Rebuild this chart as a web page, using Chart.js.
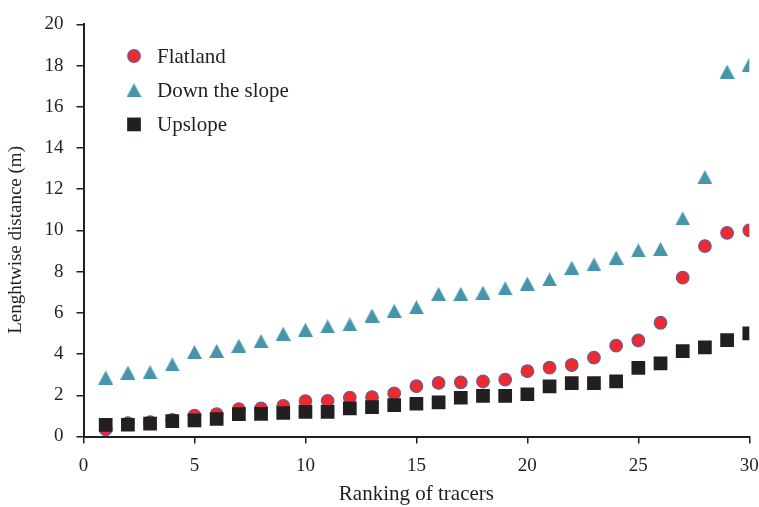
<!DOCTYPE html>
<html>
<head>
<meta charset="utf-8">
<script src="https://cdn.jsdelivr.net/npm/chart.js@4/dist/chart.umd.min.js"></script>
<style>
  html, body { margin: 0; padding: 0; background: #ffffff; }
  #wrap { width: 759px; height: 507px; }
</style>
</head>
<body>
<div id="wrap"><canvas id="c" width="759" height="507"></canvas></div>
<script>
// Tracer ranking (x) and lengthwise travel distance in metres (y)
const ranks = [1, 2, 3, 4, 5, 6, 7, 8, 9, 10, 11, 12, 13, 14, 15, 16, 17, 18, 19, 20, 21, 22, 23, 24, 25, 26, 27, 28, 29, 30];
const flatland = [0.35, 0.65, 0.7, 0.8, 1.01, 1.09, 1.33, 1.36, 1.49, 1.72, 1.73, 1.89, 1.91, 2.09, 2.44, 2.6, 2.63, 2.67, 2.76, 3.17, 3.34, 3.47, 3.83, 4.41, 4.66, 5.52, 7.71, 9.24, 9.88, 10.0];
const downSlope = [2.86, 3.1, 3.12, 3.5, 4.1, 4.15, 4.41, 4.63, 4.99, 5.18, 5.34, 5.44, 5.87, 6.1, 6.27, 6.92, 6.92, 6.98, 7.19, 7.42, 7.62, 8.19, 8.35, 8.68, 9.03, 9.1, 10.58, 12.59, 17.71, 18.05];
const upslope = [0.56, 0.57, 0.62, 0.75, 0.78, 0.85, 1.09, 1.1, 1.14, 1.19, 1.2, 1.37, 1.43, 1.52, 1.59, 1.66, 1.88, 1.97, 1.97, 2.05, 2.43, 2.59, 2.59, 2.68, 3.33, 3.55, 4.14, 4.33, 4.68, 5.0];
const seriesNames = ['Flatland', 'Down the slope', 'Upslope'];
const xTitle = 'Ranking of tracers';
const yTitle = 'Lenghtwise distance (m)    ';

const INK = '#231f20';
const RED = '#ee2a2c';
const RING = '#6b5a9c';
const TEAL = '#4795ab';
const SERIF = '"Liberation Serif", "Times New Roman", serif';

// Triangle marker centred on its bounding box
function makeTriangle(w, h, color) {
  const cv = document.createElement('canvas');
  cv.width = w; cv.height = h;
  const g = cv.getContext('2d');
  g.fillStyle = color;
  g.beginPath();
  g.moveTo(0, h);
  g.lineTo(w / 2, 0);
  g.lineTo(w, h);
  g.closePath();
  g.fill();
  return cv;
}
const triangle = makeTriangle(15, 14, TEAL);

const toPoints = ys => ranks.map((x, i) => ({ x, y: ys[i] }));

const styles = [
  { pointStyle: 'circle', radius: 6.3, backgroundColor: RED, borderColor: RING, borderWidth: 1.2, order: 1 },
  { pointStyle: triangle, radius: 7, backgroundColor: TEAL, borderColor: TEAL, borderWidth: 0, order: 2 },
  { pointStyle: 'rect', radius: 9.7, backgroundColor: INK, borderColor: INK, borderWidth: 0, order: 0 }
];

// Legend drawn inside the plot area, top-left
const insideLegend = {
  id: 'insideLegend',
  afterDatasetsDraw(chart) {
    const ctx = chart.ctx;
    const mx = 134, tx = 157, y0 = 56, dy = 34.2;
    ctx.save();
    seriesNames.forEach((name, i) => {
      const s = styles[i];
      const y = y0 + i * dy;
      ctx.fillStyle = s.backgroundColor;
      ctx.strokeStyle = s.borderColor;
      ctx.lineWidth = s.borderWidth;
      Chart.helpers.drawPoint(ctx, {
        pointStyle: s.pointStyle, radius: s.radius, rotation: 0, borderWidth: s.borderWidth
      }, mx, y);
      ctx.fillStyle = INK;
      ctx.font = '21px ' + SERIF;
      ctx.textAlign = 'left';
      ctx.textBaseline = 'middle';
      ctx.fillText(name, tx, y + 1);
    });
    ctx.restore();
  }
};

const datasets = [flatland, downSlope, upslope].map((ys, i) => ({
  label: seriesNames[i],
  data: toPoints(ys),
  showLine: false,
  order: styles[i].order,
  pointStyle: styles[i].pointStyle,
  pointRadius: styles[i].radius,
  pointHoverRadius: styles[i].radius,
  pointBackgroundColor: styles[i].backgroundColor,
  pointBorderColor: styles[i].borderColor,
  pointBorderWidth: styles[i].borderWidth
}));

new Chart(document.getElementById('c'), {
  type: 'scatter',
  data: { datasets },
  options: {
    responsive: false,
    animation: false,
    devicePixelRatio: 1,
    layout: { padding: { top: 23, right: 0, left: 0, bottom: 0 } },
    plugins: {
      legend: { display: false },
      tooltip: { enabled: false }
    },
    scales: {
      x: {
        type: 'linear',
        min: 0, max: 30,
        ticks: { stepSize: 5, color: INK, font: { family: SERIF, size: 19 }, padding: 11 },
        grid: { drawOnChartArea: false, drawTicks: true, tickLength: 7, color: INK, lineWidth: 1.5 },
        border: { display: true, color: INK, width: 2 },
        title: { display: true, text: xTitle, color: INK, font: { family: SERIF, size: 21 }, padding: { top: 0, bottom: 0 } },
        afterFit(scale) {
          scale.height = 70.5;
          scale.paddingLeft = 0;
          scale.paddingRight = 8.3;
        }
      },
      y: {
        type: 'linear',
        min: 0, max: 20,
        ticks: { stepSize: 2, color: INK, font: { family: SERIF, size: 19 }, padding: 13 },
        grid: { drawOnChartArea: false, drawTicks: true, tickLength: 7, color: INK, lineWidth: 1.5 },
        border: { display: true, color: INK, width: 2 },
        title: { display: true, text: yTitle, color: INK, font: { family: SERIF, size: 19 }, padding: { top: 5, bottom: 0 } },
        afterFit(scale) { scale.width = 83.5; }
      }
    }
  },
  plugins: [insideLegend]
});
</script>
</body>
</html>
